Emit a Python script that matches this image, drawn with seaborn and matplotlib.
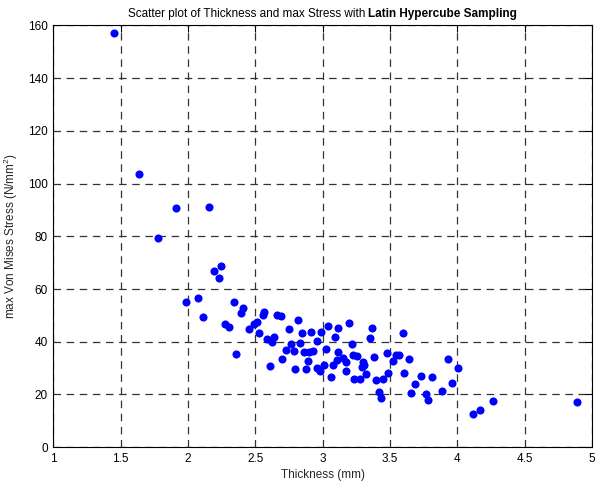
import matplotlib
matplotlib.use("Agg")
import matplotlib.pyplot as plt
import seaborn as sns
import pandas as pd
from matplotlib.offsetbox import TextArea, HPacker, AnchoredOffsetbox

thickness = [1.452, 1.636, 1.779, 1.909, 2.154, 2.191, 2.245, 2.233, 1.985, 2.072,
             2.114, 2.342, 2.411, 2.394, 2.275, 2.307, 2.354, 2.567, 2.557, 2.659,
             2.689, 2.490, 2.510, 2.453, 2.530, 2.587, 2.641, 2.626, 2.609, 2.819,
             2.752, 2.847, 2.914, 2.986, 3.040, 3.095, 2.958, 2.832, 2.763, 2.728,
             2.788, 2.865, 2.901, 2.931, 3.023, 2.892, 2.700, 2.797, 2.879, 2.958,
             2.983, 3.010, 3.075, 3.105, 3.060, 3.117, 3.193, 3.114, 3.365, 3.350,
             3.597, 3.215, 3.153, 3.171, 3.228, 3.253, 3.302, 3.290, 3.174, 3.320,
             3.233, 3.278, 3.380, 3.476, 3.521, 3.549, 3.568, 3.642, 3.485, 3.446,
             3.394, 3.607, 3.731, 3.810, 3.684, 3.657, 3.768, 3.780, 3.887, 3.929,
             4.006, 3.964, 3.416, 3.431, 4.115, 4.171, 4.268, 4.890, 3.305]
max_stress = [157.3, 103.8, 79.5, 90.6, 91.2, 66.8, 68.7, 64.3, 55.2, 56.5,
              49.3, 55.2, 52.9, 51.0, 46.8, 45.7, 35.2, 51.3, 50.2, 50.1,
              49.8, 46.6, 47.4, 44.8, 43.4, 41.0, 41.8, 39.8, 30.8, 48.2,
              44.8, 43.2, 43.8, 43.8, 45.8, 41.8, 40.4, 39.5, 39.0, 36.8,
              36.6, 36.2, 36.0, 36.5, 37.1, 32.8, 33.4, 29.8, 29.8, 30.0,
              29.0, 31.0, 31.2, 33.1, 26.5, 36.0, 47.2, 45.1, 45.3, 41.5,
              43.2, 39.0, 33.7, 32.4, 35.0, 34.7, 32.2, 30.3, 28.8, 27.6,
              25.7, 25.8, 34.1, 35.8, 32.8, 35.1, 35.0, 33.3, 28.1, 25.7,
              25.4, 28.1, 27.0, 26.5, 23.8, 20.4, 20.0, 18.0, 21.3, 33.3,
              30.1, 24.3, 21.0, 18.5, 12.4, 14.0, 17.4, 17.3, 31.3]

x_ticks = [1, 1.5, 2, 2.5, 3, 3.5, 4, 4.5, 5]
x_tick_labels = ["1", "1.5", "2", "2.5", "3", "3.5", "4", "4.5", "5"]
y_ticks = [0, 20, 40, 60, 80, 100, 120, 140, 160]

df = pd.DataFrame({"Thickness": thickness, "Stress": max_stress})

sns.set_style("white")
plt.rcParams["font.family"] = ["Liberation Sans", "DejaVu Sans"]
plt.rcParams["mathtext.fontset"] = "custom"
plt.rcParams["mathtext.rm"] = "Liberation Sans"
plt.rcParams["mathtext.it"] = "Liberation Sans"

fig = plt.figure(figsize=(6.06, 4.82), dpi=100)
ax = fig.add_axes([0.088, 0.0724, 0.8886, 0.8747])

sns.scatterplot(data=df, x="Thickness", y="Stress", ax=ax, color=(0, 0, 1),
                s=34, linewidth=0, zorder=3)

ax.set_xlim(1, 5)
ax.set_ylim(0, 160)
ax.set_xticks(x_ticks)
ax.set_xticklabels(x_tick_labels)
ax.set_yticks(y_ticks)
ax.grid(True, color="#333333", linestyle=(0, (6, 4.5)), linewidth=0.9)
ax.tick_params(direction="in", length=5, width=0.8, top=True, right=True,
               labelsize=8.5, colors="black", pad=4)
for sp in ax.spines.values():
    sp.set_visible(True)
    sp.set_color("black")
    sp.set_linewidth(0.8)

ax.set_xlabel("Thickness (mm)", fontsize=8.5, labelpad=3)
ax.set_ylabel("max Von Mises Stress (N/mm$^2$)", fontsize=8.5)
ax.yaxis.set_label_coords(-0.062, 0.5)

t1 = TextArea("Scatter plot of Thickness and max Stress with ",
              textprops=dict(fontsize=8.5, color="black"))
t2 = TextArea("Latin Hypercube Sampling",
              textprops=dict(fontsize=8.5, color="black", fontweight="bold"))
box = HPacker(children=[t1, t2], align="baseline", pad=0, sep=0)
anchored = AnchoredOffsetbox(loc="lower center", child=box, pad=0, frameon=False,
                             bbox_to_anchor=(0.5, 1.012), bbox_transform=ax.transAxes,
                             borderpad=0)
ax.add_artist(anchored)

fig.savefig("out.png", dpi=100)
